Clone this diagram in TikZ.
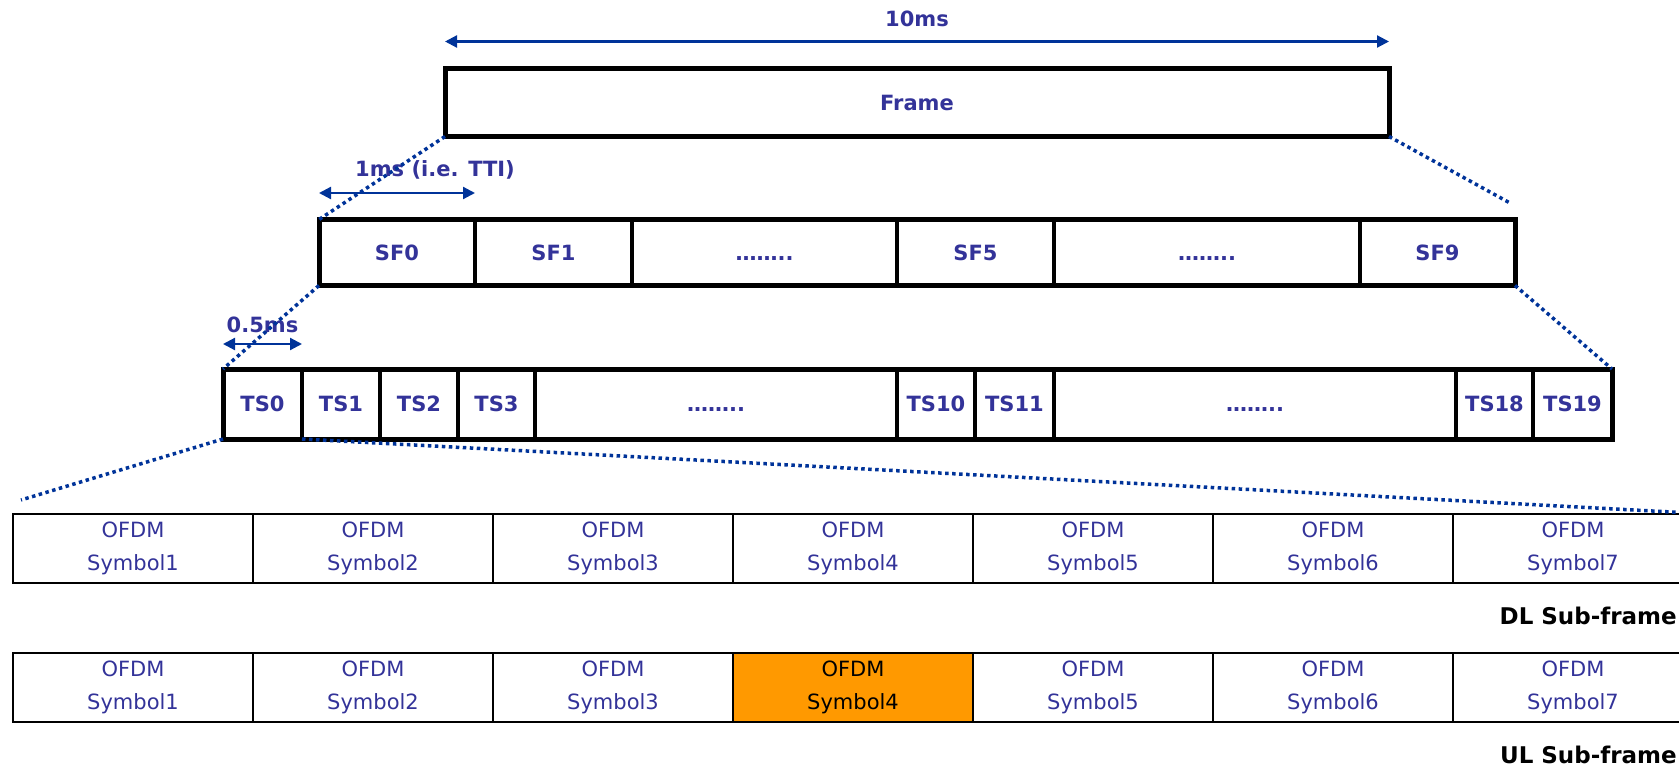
\documentclass[tikz,border=0pt]{standalone}
\usepackage{fontspec}
\setmainfont{DejaVu Sans}
\usepackage{xcolor}
\definecolor{lteblue}{RGB}{51, 51, 153}
\definecolor{dimblue}{RGB}{0, 51, 153}
\definecolor{ulorange}{RGB}{255, 153, 0}
\usepackage{tikz}
\usetikzlibrary{arrows.meta, positioning, calc}

\begin{document}
\begin{tikzpicture}[x=1pt, y=-1pt,
        framebox/.style={rectangle, draw, line width=5pt, minimum width=944pt, minimum height=68pt, inner sep=0pt, outer sep=0pt, text=lteblue, font=\fontsize{21}{25}\selectfont\bfseries},
        cellbox/.style={rectangle, draw, line width=3.5pt, inner sep=0pt, outer sep=0pt, text height=15pt, text depth=0pt, text=lteblue, font=\fontsize{21}{25}\selectfont\bfseries},
        sfbox/.style={cellbox, minimum height=66pt},
        tsbox/.style={cellbox, minimum height=70pt},
        symbox/.style={rectangle, draw, line width=2pt, minimum width=240pt, minimum height=69pt, inner sep=0pt, outer sep=0pt, align=center, text=lteblue, font=\fontsize{21}{33}\selectfont},
        rowlabel/.style={anchor=east, inner sep=0pt, font=\fontsize{23}{28}\selectfont\bfseries},
        dimlabel/.style={inner sep=0pt, text=lteblue, font=\fontsize{21}{25}\selectfont\bfseries},
        dim/.style={draw=dimblue, line width=2.2pt, {Triangle[length=12pt,width=12pt]}-{Triangle[length=12pt,width=12pt]}},
        zoomline/.style={draw=dimblue, line width=3.5pt, dash pattern=on 3.5pt off 3.5pt}]

        \clip (0,0) rectangle (1679,768);

        % frame
        \node [framebox, anchor=north west] (frame) at (445,68.5) {Frame};

        % sub-frames
        \node [sfbox, minimum width=156pt, anchor=north west] (sf0) at (319,219.5) {SF0};
        \node [sfbox, minimum width=157pt, right=0pt of sf0] (sf1) {SF1};
        \node [sfbox, minimum width=265pt, right=0pt of sf1] (sfdotsa) {……..};
        \node [sfbox, minimum width=157pt, right=0pt of sfdotsa] (sf5) {SF5};
        \node [sfbox, minimum width=306pt, right=0pt of sf5] (sfdotsb) {……..};
        \node [sfbox, minimum width=155pt, right=0pt of sfdotsb] (sf9) {SF9};
        \draw [line width=5pt] (sf0.north west) rectangle (sf9.south east);

        % time slots
        \node [tsbox, minimum width=79pt, anchor=north west] (ts0) at (223,369) {TS0};
        \node [tsbox, minimum width=78pt, right=0pt of ts0] (ts1) {TS1};
        \node [tsbox, minimum width=78pt, right=0pt of ts1] (ts2) {TS2};
        \node [tsbox, minimum width=77pt, right=0pt of ts2] (ts3) {TS3};
        \node [tsbox, minimum width=362pt, right=0pt of ts3] (tsdotsa) {……..};
        \node [tsbox, minimum width=78pt, right=0pt of tsdotsa] (ts10) {TS10};
        \node [tsbox, minimum width=79pt, right=0pt of ts10] (ts11) {TS11};
        \node [tsbox, minimum width=402pt, right=0pt of ts11] (tsdotsb) {……..};
        \node [tsbox, minimum width=77pt, right=0pt of tsdotsb] (ts18) {TS18};
        \node [tsbox, minimum width=79pt, right=0pt of ts18] (ts19) {TS19};
        \draw [line width=5pt] (ts0.north west) rectangle (ts19.south east);

        % DL sub-frame
        \node [symbox, anchor=north west] (dl1) at (13,514) {OFDM\\Symbol1};
        \node [symbox, right=0pt of dl1] (dl2) {OFDM\\Symbol2};
        \node [symbox, right=0pt of dl2] (dl3) {OFDM\\Symbol3};
        \node [symbox, right=0pt of dl3] (dl4) {OFDM\\Symbol4};
        \node [symbox, right=0pt of dl4] (dl5) {OFDM\\Symbol5};
        \node [symbox, right=0pt of dl5] (dl6) {OFDM\\Symbol6};
        \node [symbox, right=0pt of dl6] (dl7) {OFDM\\Symbol7};
        \node [rowlabel] (dllabel) at (1677,616) {DL Sub-frame};

        % UL sub-frame
        \node [symbox, anchor=north west] (ul1) at (13,653) {OFDM\\Symbol1};
        \node [symbox, right=0pt of ul1] (ul2) {OFDM\\Symbol2};
        \node [symbox, right=0pt of ul2] (ul3) {OFDM\\Symbol3};
        \node [symbox, right=0pt of ul3, fill=ulorange, text=black] (ul4) {OFDM\\Symbol4};
        \node [symbox, right=0pt of ul4] (ul5) {OFDM\\Symbol5};
        \node [symbox, right=0pt of ul5] (ul6) {OFDM\\Symbol6};
        \node [symbox, right=0pt of ul6] (ul7) {OFDM\\Symbol7};
        \node [rowlabel] (ullabel) at (1677,755) {UL Sub-frame};

        % durations
        \draw [dim] ([yshift=27pt]frame.north west) -- node [dimlabel, above=14pt] {10ms} ([yshift=27pt]frame.north east);
        \draw [dim] ([yshift=26.5pt]sf0.north west) -- node [dimlabel, above=13pt, xshift=38pt] {1ms (i.e. TTI)} ([yshift=26.5pt]sf0.north east);
        \draw [dim] ([yshift=25pt]ts0.north west) -- node [dimlabel, above=10pt] {0.5ms} ([yshift=25pt]ts0.north east);

        % zoom lines
        \coordinate (frameend) at (1510,203);
        \coordinate (symleft) at (21,500);
        \coordinate (symright) at (1690,513);
        \draw [zoomline] (frame.south west) -- (sf0.north west);
        \draw [zoomline] (frame.south east) -- (frameend);
        \draw [zoomline] (sf0.south west) -- (ts0.north west);
        \draw [zoomline] (sf9.south east) -- (ts19.north east);
        \draw [zoomline] (ts0.south west) -- (symleft);
        \draw [zoomline] (ts0.south east) -- (symright);
\end{tikzpicture}
\end{document}
